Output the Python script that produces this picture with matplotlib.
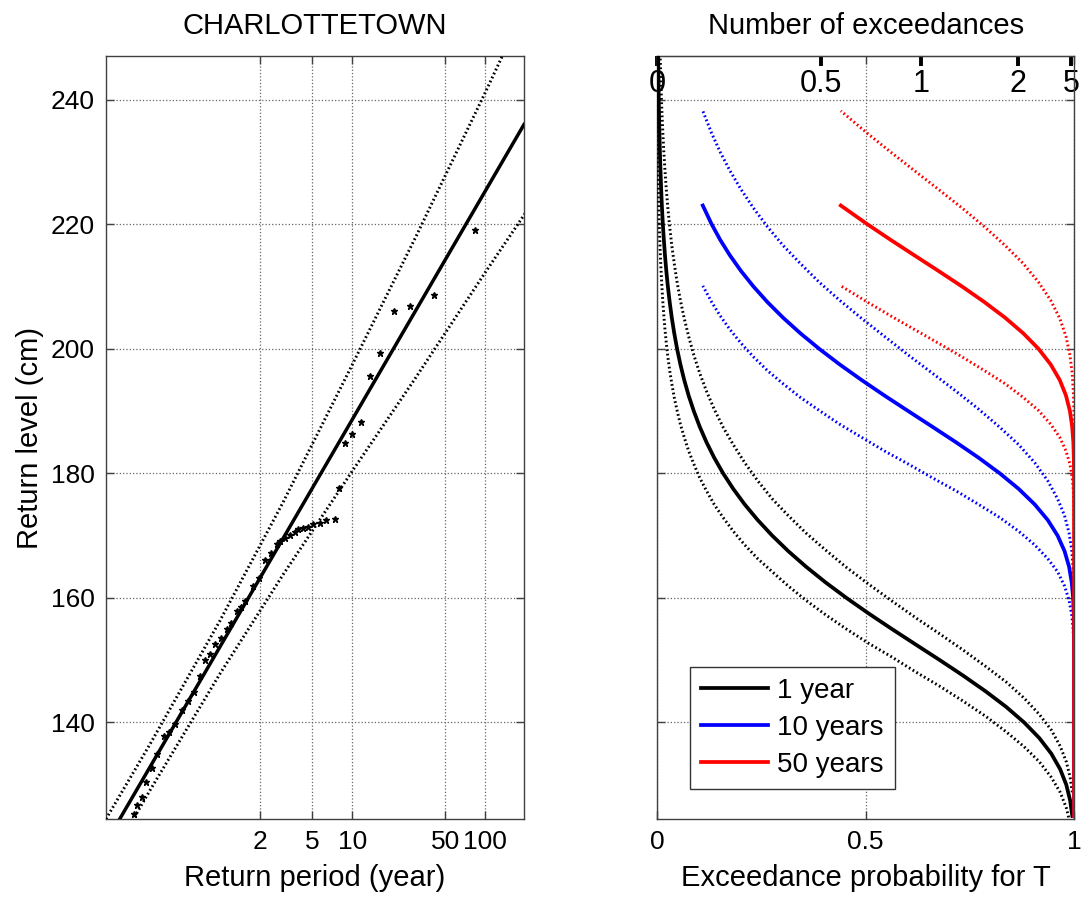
import numpy as np
import matplotlib.pyplot as plt
from matplotlib.ticker import NullLocator, FixedLocator

plt.rcParams['font.family'] = ['Liberation Sans', 'DejaVu Sans']

# ---- left panel: return level plot ----
fit_T = [0.14, 195]
fit_z = [120.7, 236.0]

band_T = [0.14, 0.3, 1, 3, 10, 30, 100, 200]
band_upper = [124.5, 136.5, 156.2, 175.3, 197.5, 218.0, 241.2, 254.9]
band_lower = [116.9, 129.1, 147.7, 163.7, 180.4, 195.4, 212.3, 221.8]

obs_T = [83.5, 41.4, 27.3, 20.7, 16.2, 13.6, 11.5, 10.0, 8.74, 7.92,
         7.35, 6.37, 5.67, 5.05, 4.63, 4.25, 3.90, 3.68, 3.38, 3.10, 2.84, 2.69,
         2.45, 2.21, 1.97, 1.80, 1.56, 1.45, 1.35, 1.22, 1.14, 1.03, 0.93, 0.85,
         0.78, 0.71, 0.64, 0.58, 0.52, 0.46, 0.42, 0.38, 0.34, 0.31, 0.28, 0.26,
         0.24, 0.227]
obs_z = [219.0, 208.7, 206.9, 206.1, 199.4, 195.7, 188.2, 186.3, 184.9, 177.6,
         172.6, 172.5, 172.1, 171.8, 171.4, 171.2, 171.0, 170.6, 170.1, 169.6, 169.1, 168.6,
         167.2, 166.1, 163.2, 161.9, 159.5, 158.5, 157.9, 156.0, 155.0, 153.5, 152.6, 151.0,
         150.0, 147.5, 144.9, 143.5, 142.0, 139.8, 138.5, 137.8, 135.0, 132.7, 130.5, 128.0,
         126.8, 125.3]

period_ticks = [2, 5, 10, 50, 100]
level_ticks = [140, 160, 180, 200, 220, 240]

# ---- right panel: exceedance probability for T years ----
level = [125, 127.5, 130, 132.5, 135, 137.5, 140, 142.5, 145, 147.5, 150, 152.5,
         155, 157.5, 160, 162.5, 165, 167.5, 170, 172.5, 175, 177.5, 180, 182.5,
         185, 187.5, 190, 192.5, 195, 197.5, 200, 202.5, 205, 207.5, 210, 212.5,
         215, 217.5, 220, 223, 226, 230, 235, 240, 247, 260, 270]
level_upper = [128.8, 131.2, 133.7, 136.2, 138.8, 141.3, 143.9, 146.5, 149.0, 151.6,
               154.2, 156.8, 159.5, 162.2, 164.9, 167.7, 170.4, 173.2, 175.9, 178.8,
               181.7, 184.6, 187.4, 190.3, 193.2, 196.1, 199.0, 202.0, 204.9, 207.8,
               210.7, 213.7, 216.6, 219.6, 222.6, 225.6, 228.6, 231.6, 234.6, 238.2,
               241.9, 246.9, 253.1, 259.4, 268.1, 284.0, 296.0]
level_lower = [121.3, 123.8, 126.3, 128.8, 131.2, 133.7, 136.1, 138.5, 141.0, 143.4,
               145.8, 148.1, 150.5, 152.7, 155.0, 157.3, 159.6, 161.9, 164.2, 166.3,
               168.5, 170.7, 172.9, 175.0, 177.2, 179.3, 181.5, 183.6, 185.8, 187.9,
               190.1, 192.2, 194.4, 196.5, 198.7, 200.9, 203.1, 205.3, 207.5, 210.1,
               212.5, 215.6, 219.5, 223.4, 228.9, 239.0, 248.5]

prob_1yr = [0.9957, 0.9905, 0.9813, 0.9666, 0.9453, 0.9166, 0.8803, 0.8372, 0.7879,
            0.7345, 0.6783, 0.6206, 0.5633, 0.5074, 0.4541, 0.4039, 0.3574, 0.3148,
            0.2762, 0.2414, 0.2103, 0.1828, 0.1584, 0.1371, 0.1185, 0.1022, 0.0881,
            0.0757, 0.0651, 0.0559, 0.0480, 0.0412, 0.0353, 0.0303, 0.0259, 0.0222,
            0.0190, 0.0163, 0.0139, 0.0115, 0.0096, 0.0075, 0.0055, 0.0040, 0.0026,
            0.0011, 0.0006]
prob_10yr = [1.0, 1.0, 1.0, 1.0, 1.0, 1.0, 1.0, 1.0, 1.0, 1.0, 1.0, 0.9999,
             0.9997, 0.9992, 0.9977, 0.9943, 0.9880, 0.9772, 0.9605, 0.9369, 0.9057,
             0.8672, 0.8218, 0.7712, 0.7166, 0.6597, 0.6022, 0.5451, 0.4901, 0.4376,
             0.3887, 0.3434, 0.3020, 0.2646, 0.2311, 0.2012, 0.1747, 0.1513, 0.1309,
             0.1097]
prob_50yr = [1.0, 1.0, 1.0, 1.0, 1.0, 1.0, 1.0, 1.0, 1.0, 1.0, 1.0, 1.0,
             1.0, 1.0, 1.0, 1.0, 1.0, 1.0, 1.0, 1.0, 1.0, 1.0, 0.9998, 0.9994,
             0.9982, 0.9954, 0.9900, 0.9805, 0.9655, 0.9437, 0.9146, 0.8779, 0.8344,
             0.7849, 0.7313, 0.6747, 0.6171, 0.5598, 0.5042, 0.4406]

series = [("1 year", prob_1yr, "black"),
          ("10 years", prob_10yr, "#0000ff"),
          ("50 years", prob_50yr, "#ff0000")]

count_ticks = [0, 0.5, 1, 2, 5]

dotted = dict(linestyle=(0, (0.6, 0.9)), linewidth=2.1)
ylim = (124.5, 247.0)


def style_axes(ax):
    ax.set_ylim(*ylim)
    ax.yaxis.set_major_locator(FixedLocator(level_ticks))
    ax.grid(True, color="0.4", linestyle=":", linewidth=0.9)
    ax.tick_params(direction="in", length=6, width=1, top=True, right=True,
                   labelsize=19, pad=8, color="0.25")
    for s in ax.spines.values():
        s.set_color("0.25")
        s.set_linewidth(1.0)


fig = plt.figure(figsize=(10.9, 9.01), dpi=100)
ax1 = fig.add_axes([0.0972, 0.0910, 0.3835, 0.8468])
ax2 = fig.add_axes([0.6028, 0.0910, 0.3826, 0.8468])

# left panel
ax1.set_xscale("log")
ax1.set_xlim(0.14, 195)
style_axes(ax1)
ax1.xaxis.set_major_locator(FixedLocator(period_ticks))
ax1.xaxis.set_minor_locator(NullLocator())
ax1.set_xticklabels([str(t) for t in period_ticks])

ax1.plot(fit_T, fit_z, color="black", linewidth=2.5, zorder=3)
ax1.plot(band_T, band_upper, color="black", **dotted, zorder=3)
ax1.plot(band_T, band_lower, color="black", **dotted, zorder=3)
ax1.plot(obs_T, obs_z, linestyle="none", marker="*", markersize=5,
         color="black", zorder=4)

ax1.set_title("CHARLOTTETOWN", fontsize=21, y=1.0, pad=16)
ax1.set_xlabel("Return period (year)", fontsize=21, labelpad=7)
ax1.set_ylabel("Return level (cm)", fontsize=21, labelpad=5)

# right panel
ax2.set_xlim(0, 1)
style_axes(ax2)
ax2.set_xticks([0, 0.5, 1])
ax2.set_xticklabels(["0", "0.5", "1"])
ax2.tick_params(labelleft=False)

for label, prob, col in series:
    k = len(prob)
    ax2.plot(prob, level[:k], color=col, linewidth=2.7, label=label, zorder=3)
    ax2.plot(prob, level_upper[:k], color=col, **dotted, zorder=3)
    ax2.plot(prob, level_lower[:k], color=col, **dotted, zorder=3)

ax2.set_xlabel("Exceedance probability for T", fontsize=21, labelpad=7)
ax2.set_title("Number of exceedances", fontsize=21, y=1.0, pad=16)

top = ax2.secondary_xaxis(
    "top",
    functions=(lambda p: -np.log(np.clip(1 - np.asarray(p, dtype=float), 1e-9, None)),
               lambda c: 1 - np.exp(-np.asarray(c, dtype=float))))
top.set_xticks(count_ticks)
top.set_xticklabels(["0", "0.5", "1", "2", "5"])
top.tick_params(direction="in", length=7, width=2.8, labelsize=22, pad=-31,
                color="black")
top.xaxis.set_minor_locator(NullLocator())

leg = ax2.legend(loc="lower left", bbox_to_anchor=(0.079, 0.039), borderaxespad=0,
                 fontsize=20, handlelength=2.4, handletextpad=0.35,
                 labelspacing=0.4, borderpad=0.4, fancybox=False, framealpha=1)
leg.get_frame().set_edgecolor("0.2")
leg.get_frame().set_linewidth(1.0)

fig.savefig("out.png", dpi=100, facecolor="white")
